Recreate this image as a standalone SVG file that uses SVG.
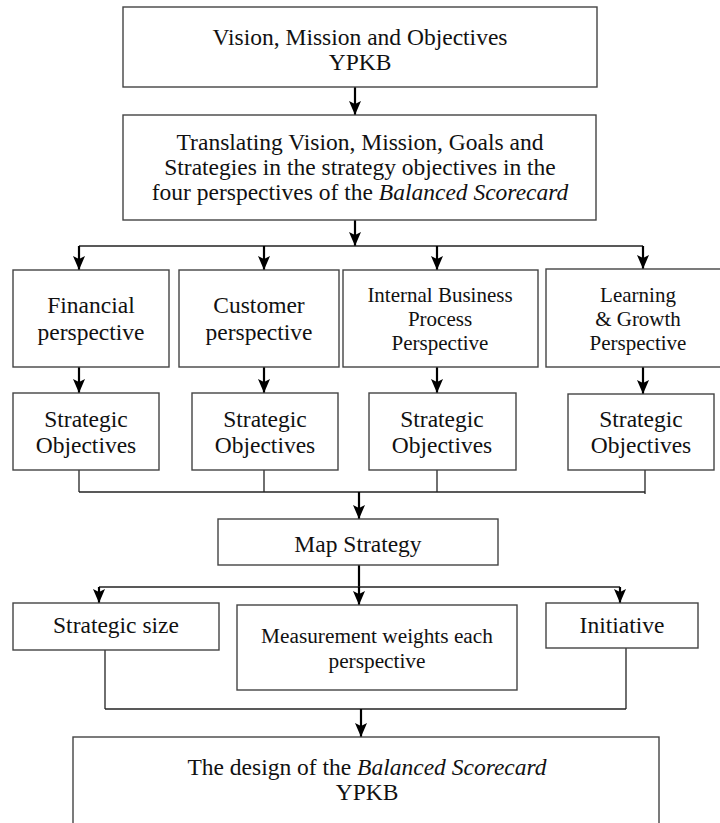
<svg xmlns="http://www.w3.org/2000/svg" width="720" height="823" viewBox="0 0 720 823">
<defs>
<marker id="ah" viewBox="0 -6 14 12" refX="14" refY="0" markerWidth="14" markerHeight="12" markerUnits="userSpaceOnUse" orient="auto">
<path d="M0,-6 L14,0 L0,6 L3,0 z" fill="#000"/>
</marker>
</defs>
<style>
rect{fill:#fff;stroke:#444;stroke-width:1.4}
text{font-family:"Liberation Serif","Times New Roman",serif;fill:#111;text-anchor:middle;font-size:23.5px}
.s{font-size:21px}
.arr{stroke:#000;stroke-width:2.2;fill:none;marker-end:url(#ah)}
.ln{stroke:#222;stroke-width:1.3;fill:none}
.thk{stroke:#000;stroke-width:2.2;fill:none}
</style>
<rect width="720" height="823" style="fill:#fff;stroke:none"/>
<g id="connectors">
<line class="arr" x1="355" y1="87" x2="355" y2="115"/>
<line class="arr" x1="355" y1="220" x2="355" y2="246"/>
<line class="ln" x1="79" y1="246" x2="643" y2="246"/>
<line class="arr" x1="79" y1="246" x2="79" y2="270"/>
<line class="arr" x1="264" y1="246" x2="264" y2="270"/>
<line class="arr" x1="437" y1="246" x2="437" y2="270"/>
<line class="arr" x1="643" y1="246" x2="643" y2="269"/>
<line class="arr" x1="79" y1="367" x2="79" y2="393"/>
<line class="arr" x1="264" y1="367" x2="264" y2="393"/>
<line class="arr" x1="437" y1="367" x2="437" y2="393"/>
<line class="arr" x1="643" y1="367" x2="643" y2="394"/>
<line class="ln" x1="79" y1="470" x2="79" y2="492"/>
<line class="ln" x1="264" y1="470" x2="264" y2="492"/>
<line class="ln" x1="437" y1="470" x2="437" y2="492"/>
<line class="ln" x1="645" y1="470" x2="645" y2="494"/>
<line class="ln" x1="79" y1="492" x2="645" y2="492"/>
<line class="arr" x1="359" y1="492" x2="359" y2="519"/>
<line class="thk" x1="359" y1="565" x2="359" y2="588"/>
<line class="ln" x1="99" y1="587" x2="620" y2="587"/>
<line class="arr" x1="99" y1="587" x2="99" y2="603"/>
<line class="arr" x1="359" y1="587" x2="359" y2="605"/>
<line class="arr" x1="620" y1="587" x2="620" y2="603"/>
<line class="ln" x1="105" y1="650" x2="105" y2="709"/>
<line class="ln" x1="626" y1="648" x2="626" y2="709"/>
<line class="ln" x1="105" y1="709" x2="626" y2="709"/>
<line class="arr" x1="361" y1="709" x2="361" y2="737"/>
</g>
<g id="vision">
<rect x="123" y="7" width="474" height="80"/>
<text x="360" y="45">Vision, Mission and Objectives</text>
<text x="360" y="70">YPKB</text>
</g>
<g id="translate">
<rect x="123" y="115" width="473" height="105"/>
<text x="360" y="150">Translating Vision, Mission, Goals and</text>
<text x="360" y="175">Strategies in the strategy objectives in the</text>
<text x="360" y="200">four perspectives of the <tspan font-style="italic">Balanced Scorecard</tspan></text>
</g>
<g id="financial">
<rect x="13" y="270" width="156" height="97"/>
<text x="91" y="313">Financial</text>
<text x="91" y="340">perspective</text>
</g>
<g id="customer">
<rect x="179" y="270" width="160" height="97"/>
<text x="259" y="313">Customer</text>
<text x="259" y="340">perspective</text>
</g>
<g id="internal">
<rect x="343" y="270" width="195" height="97"/>
<text class="s" x="440" y="302">Internal Business</text>
<text class="s" x="440" y="326">Process</text>
<text class="s" x="440" y="350">Perspective</text>
</g>
<g id="learning">
<rect x="546" y="269" width="176" height="98"/>
<text class="s" x="638" y="302">Learning</text>
<text class="s" x="638" y="326">&amp; Growth</text>
<text class="s" x="638" y="350">Perspective</text>
</g>
<g id="so1">
<rect x="13" y="393" width="146" height="77"/>
<text x="86" y="427">Strategic</text>
<text x="86" y="453">Objectives</text>
</g>
<g id="so2">
<rect x="192" y="393" width="146" height="77"/>
<text x="265" y="427">Strategic</text>
<text x="265" y="453">Objectives</text>
</g>
<g id="so3">
<rect x="369" y="393" width="147" height="77"/>
<text x="442" y="427">Strategic</text>
<text x="442" y="453">Objectives</text>
</g>
<g id="so4">
<rect x="568" y="394" width="146" height="76"/>
<text x="641" y="427">Strategic</text>
<text x="641" y="453">Objectives</text>
</g>
<g id="map">
<rect x="218" y="519" width="280" height="46"/>
<text x="358" y="552">Map Strategy</text>
</g>
<g id="size">
<rect x="13" y="603" width="206" height="47"/>
<text x="116" y="633">Strategic size</text>
</g>
<g id="weights">
<rect x="237" y="605" width="280" height="85"/>
<text class="s" x="377" y="643" style="font-size:21.3px">Measurement weights each</text>
<text class="s" x="377" y="668" style="font-size:21.3px">perspective</text>
</g>
<g id="initiative">
<rect x="546" y="603" width="152" height="45"/>
<text x="622" y="633">Initiative</text>
</g>
<g id="design">
<rect x="73" y="737" width="586" height="100"/>
<text x="367" y="775">The design of the <tspan font-style="italic">Balanced Scorecard</tspan></text>
<text x="367" y="800">YPKB</text>
</g>
</svg>
